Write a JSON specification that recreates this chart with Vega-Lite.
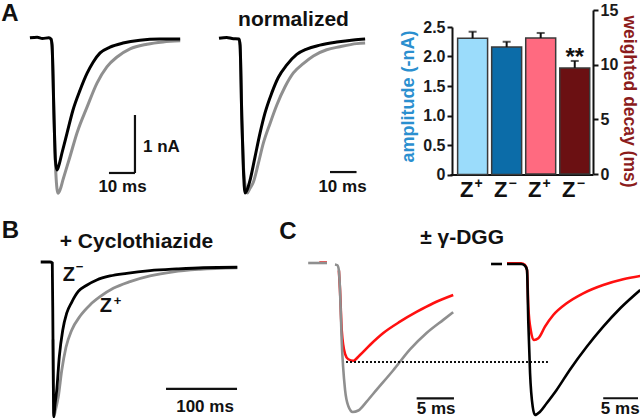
{
  "$schema": "https://vega.github.io/schema/vega-lite/v6.json",
  "width": 640,
  "height": 418,
  "autosize": "none",
  "padding": 0,
  "background": "white",
  "config": {"font": "Liberation Sans", "view": {"stroke": null}},
  "datasets": {
    "a1": [
      {"s":"Zplus","seg":"a","t":7.3,"v":0},{"s":"Zplus","seg":"a","t":7.7,"v":-0.1},{"s":"Zplus","seg":"a","t":8.5,"v":-1.4},{"s":"Zplus","seg":"a","t":9.2,"v":-2.34},{"s":"Zplus","seg":"a","t":10,"v":-2.66},{"s":"Zplus","seg":"a","t":10.8,"v":-2.6},{"s":"Zplus","seg":"a","t":11.9,"v":-2.43},{"s":"Zplus","seg":"a","t":14.6,"v":-2.03},{"s":"Zplus","seg":"a","t":17.3,"v":-1.62},{"s":"Zplus","seg":"a","t":21.2,"v":-1.17},{"s":"Zplus","seg":"a","t":25,"v":-0.76},{"s":"Zplus","seg":"a","t":28.8,"v":-0.48},{"s":"Zplus","seg":"a","t":32.7,"v":-0.31},{"s":"Zplus","seg":"a","t":37.7,"v":-0.17},{"s":"Zplus","seg":"a","t":44.2,"v":-0.09},{"s":"Zplus","seg":"a","t":50.4,"v":-0.05},{"s":"Zplus","seg":"a","t":57,"v":-0.03},
      {"s":"Zminus","seg":"a","t":-0.8,"v":0.02},{"s":"Zminus","seg":"a","t":2,"v":0.03},{"s":"Zminus","seg":"a","t":4,"v":0.01},{"s":"Zminus","seg":"a","t":6.5,"v":0.02},{"s":"Zminus","seg":"a","t":7.3,"v":0},{"s":"Zminus","seg":"a","t":7.7,"v":-0.1},{"s":"Zminus","seg":"a","t":8.5,"v":-1.4},{"s":"Zminus","seg":"a","t":9.0,"v":-2.09},{"s":"Zminus","seg":"a","t":9.6,"v":-2.26},{"s":"Zminus","seg":"a","t":10.4,"v":-2.17},{"s":"Zminus","seg":"a","t":11.5,"v":-1.97},{"s":"Zminus","seg":"a","t":13.5,"v":-1.62},{"s":"Zminus","seg":"a","t":15.8,"v":-1.22},{"s":"Zminus","seg":"a","t":18.5,"v":-0.88},{"s":"Zminus","seg":"a","t":21.2,"v":-0.59},{"s":"Zminus","seg":"a","t":23.5,"v":-0.4},{"s":"Zminus","seg":"a","t":26.2,"v":-0.24},{"s":"Zminus","seg":"a","t":30,"v":-0.14},{"s":"Zminus","seg":"a","t":35,"v":-0.07},{"s":"Zminus","seg":"a","t":41.5,"v":-0.02},{"s":"Zminus","seg":"a","t":49.2,"v":0},{"s":"Zminus","seg":"a","t":57,"v":0},
      {"s":"bar","seg":"h","t":29.6,"v":-2.31},{"s":"bar","seg":"h","t":39.6,"v":-2.31},{"s":"bar","seg":"v","t":39.6,"v":-2.31},{"s":"bar","seg":"v","t":39.6,"v":-1.31},
      {"s":"label","k":"letter","txt":"A","t":-8.46,"v":0.43},
      {"s":"label","k":"scale","txt":"1 nA","t":49.8,"v":-1.862},
      {"s":"label","k":"scale","txt":"10 ms","t":34.8,"v":-2.56}
    ],
    "a2": [
      {"s":"Zplus","seg":"a","t":7.7,"v":0},{"s":"Zplus","seg":"a","t":8.1,"v":-0.04},{"s":"Zplus","seg":"a","t":8.8,"v":-0.53},{"s":"Zplus","seg":"a","t":9.6,"v":-0.88},{"s":"Zplus","seg":"a","t":10.9,"v":-1},{"s":"Zplus","seg":"a","t":11.9,"v":-0.97},{"s":"Zplus","seg":"a","t":13.2,"v":-0.93},{"s":"Zplus","seg":"a","t":15.1,"v":-0.81},{"s":"Zplus","seg":"a","t":17,"v":-0.68},{"s":"Zplus","seg":"a","t":19.6,"v":-0.55},{"s":"Zplus","seg":"a","t":22.2,"v":-0.43},{"s":"Zplus","seg":"a","t":25.4,"v":-0.31},{"s":"Zplus","seg":"a","t":28.6,"v":-0.22},{"s":"Zplus","seg":"a","t":32.4,"v":-0.16},{"s":"Zplus","seg":"a","t":36.3,"v":-0.11},{"s":"Zplus","seg":"a","t":41.4,"v":-0.07},{"s":"Zplus","seg":"a","t":46.5,"v":-0.05},{"s":"Zplus","seg":"a","t":53,"v":-0.03},{"s":"Zplus","seg":"a","t":56.2,"v":-0.026},
      {"s":"Zminus","seg":"a","t":0,"v":0.005},{"s":"Zminus","seg":"a","t":3,"v":0.01},{"s":"Zminus","seg":"a","t":5,"v":0.003},{"s":"Zminus","seg":"a","t":7.7,"v":0},{"s":"Zminus","seg":"a","t":8.1,"v":-0.04},{"s":"Zminus","seg":"a","t":8.8,"v":-0.53},{"s":"Zminus","seg":"a","t":9.4,"v":-0.85},{"s":"Zminus","seg":"a","t":10,"v":-1},{"s":"Zminus","seg":"a","t":10.8,"v":-0.98},{"s":"Zminus","seg":"a","t":11.9,"v":-0.92},{"s":"Zminus","seg":"a","t":13.8,"v":-0.77},{"s":"Zminus","seg":"a","t":15.8,"v":-0.61},{"s":"Zminus","seg":"a","t":17.7,"v":-0.48},{"s":"Zminus","seg":"a","t":20.3,"v":-0.35},{"s":"Zminus","seg":"a","t":22.8,"v":-0.25},{"s":"Zminus","seg":"a","t":26,"v":-0.17},{"s":"Zminus","seg":"a","t":29.9,"v":-0.1},{"s":"Zminus","seg":"a","t":33.7,"v":-0.065},{"s":"Zminus","seg":"a","t":38.8,"v":-0.04},{"s":"Zminus","seg":"a","t":45.3,"v":-0.02},{"s":"Zminus","seg":"a","t":51.7,"v":-0.006},{"s":"Zminus","seg":"a","t":56.2,"v":0},
      {"s":"bar","seg":"h","t":42.7,"v":-0.864},{"s":"bar","seg":"h","t":52.9,"v":-0.864},
      {"s":"label","k":"title","txt":"normalized","t":28.65,"v":0.123},
      {"s":"label","k":"scale","txt":"10 ms","t":47.5,"v":-0.964}
    ],
    "b": [
      {"s":"Zplus","seg":"a","t":1.4,"v":-0.5},{"s":"Zplus","seg":"a","t":2.5,"v":-1.0},{"s":"Zplus","seg":"a","t":4.9,"v":-0.955},{"s":"Zplus","seg":"a","t":8.9,"v":-0.87},{"s":"Zplus","seg":"a","t":13.7,"v":-0.7},{"s":"Zplus","seg":"a","t":19.7,"v":-0.55},{"s":"Zplus","seg":"a","t":27.7,"v":-0.44},{"s":"Zplus","seg":"a","t":39.4,"v":-0.35},{"s":"Zplus","seg":"a","t":53.5,"v":-0.277},{"s":"Zplus","seg":"a","t":67.6,"v":-0.224},{"s":"Zplus","seg":"a","t":86.3,"v":-0.17},{"s":"Zplus","seg":"a","t":109.9,"v":-0.127},{"s":"Zplus","seg":"a","t":138,"v":-0.09},{"s":"Zplus","seg":"a","t":170.8,"v":-0.063},{"s":"Zplus","seg":"a","t":208.5,"v":-0.047},{"s":"Zplus","seg":"a","t":261,"v":-0.037},
      {"s":"Zminus","seg":"a","t":-15.9,"v":0},{"s":"Zminus","seg":"a","t":-2.8,"v":0},{"s":"Zminus","seg":"a","t":0.4,"v":-0.006},{"s":"Zminus","seg":"a","t":1.4,"v":-0.5},{"s":"Zminus","seg":"a","t":2.5,"v":-1.0},{"s":"Zminus","seg":"a","t":4.2,"v":-0.92},{"s":"Zminus","seg":"a","t":6.6,"v":-0.83},{"s":"Zminus","seg":"a","t":10.3,"v":-0.61},{"s":"Zminus","seg":"a","t":15.1,"v":-0.44},{"s":"Zminus","seg":"a","t":20.7,"v":-0.33},{"s":"Zminus","seg":"a","t":27.7,"v":-0.26},{"s":"Zminus","seg":"a","t":37,"v":-0.19},{"s":"Zminus","seg":"a","t":48.9,"v":-0.15},{"s":"Zminus","seg":"a","t":63,"v":-0.116},{"s":"Zminus","seg":"a","t":81.7,"v":-0.09},{"s":"Zminus","seg":"a","t":105.2,"v":-0.073},{"s":"Zminus","seg":"a","t":138,"v":-0.056},{"s":"Zminus","seg":"a","t":175.6,"v":-0.045},{"s":"Zminus","seg":"a","t":213.1,"v":-0.037},{"s":"Zminus","seg":"a","t":261,"v":-0.034},
      {"s":"bar","seg":"h","t":160.6,"v":-0.819},{"s":"bar","seg":"h","t":260.6,"v":-0.819},
      {"s":"label","k":"letter","txt":"B","t":-58.5,"v":0.197},
      {"s":"label","k":"title","txt":"+ Cyclothiazide","t":119,"v":0.126},
      {"s":"label","k":"z","txt":"Z","t":23.9,"v":-0.087},
      {"s":"label","k":"sup","txt":"−","t":38.7,"v":-0.032},
      {"s":"label","k":"z","txt":"Z","t":76,"v":-0.281},
      {"s":"label","k":"sup","txt":"+","t":92.3,"v":-0.252},
      {"s":"label","k":"scale","txt":"100 ms","t":215.5,"v":-0.935}
    ],
    "cl": [
      {"s":"DGG","seg":"a","t":-2.8,"v":0.003},{"s":"DGG","seg":"a","t":-1.76,"v":0.003},
      {"s":"DGG","seg":"b","t":-0.15,"v":-0.05},{"s":"DGG","seg":"b","t":0,"v":-0.18},{"s":"DGG","seg":"b","t":0.23,"v":-0.45},{"s":"DGG","seg":"b","t":0.68,"v":-0.61},{"s":"DGG","seg":"b","t":1.12,"v":-0.646},{"s":"DGG","seg":"b","t":1.8,"v":-0.656},{"s":"DGG","seg":"b","t":2.7,"v":-0.617},{"s":"DGG","seg":"b","t":4.05,"v":-0.55},{"s":"DGG","seg":"b","t":5.85,"v":-0.47},{"s":"DGG","seg":"b","t":8.1,"v":-0.394},{"s":"DGG","seg":"b","t":10.4,"v":-0.327},{"s":"DGG","seg":"b","t":12.6,"v":-0.27},{"s":"DGG","seg":"b","t":15.3,"v":-0.215},
      {"s":"Zplus","seg":"a","t":-4.3,"v":0},{"s":"Zplus","seg":"a","t":-1.76,"v":0},
      {"s":"Zplus","seg":"b","t":-0.68,"v":-0.01},{"s":"Zplus","seg":"b","t":-0.35,"v":-0.015},{"s":"Zplus","seg":"b","t":-0.15,"v":-0.05},{"s":"Zplus","seg":"b","t":0,"v":-0.18},{"s":"Zplus","seg":"b","t":0.23,"v":-0.52},{"s":"Zplus","seg":"b","t":0.68,"v":-0.85},{"s":"Zplus","seg":"b","t":1.12,"v":-0.96},{"s":"Zplus","seg":"b","t":1.72,"v":-1.0},{"s":"Zplus","seg":"b","t":2.47,"v":-0.99},{"s":"Zplus","seg":"b","t":3.6,"v":-0.93},{"s":"Zplus","seg":"b","t":4.96,"v":-0.85},{"s":"Zplus","seg":"b","t":7.2,"v":-0.72},{"s":"Zplus","seg":"b","t":9.46,"v":-0.58},{"s":"Zplus","seg":"b","t":11.7,"v":-0.47},{"s":"Zplus","seg":"b","t":14,"v":-0.38},{"s":"Zplus","seg":"b","t":15.3,"v":-0.33},
      {"s":"ref","seg":"r","t":0.81,"v":-0.664},{"s":"ref","seg":"r","t":28.1,"v":-0.664},
      {"s":"bar","seg":"h","t":10.36,"v":-0.908},{"s":"bar","seg":"h","t":15.4,"v":-0.908},
      {"s":"label","k":"letter","txt":"C","t":-7.03,"v":0.205},
      {"s":"label","k":"title","txt":"± γ-DGG","t":16.5,"v":0.171},
      {"s":"label","k":"scale","txt":"5 ms","t":13,"v":-0.98}
    ],
    "cr": [
      {"s":"DGG","seg":"b","t":-2.7,"v":0.005},{"s":"DGG","seg":"b","t":-0.8,"v":0.005},{"s":"DGG","seg":"b","t":-0.3,"v":-0.005},{"s":"DGG","seg":"b","t":0,"v":-0.04},{"s":"DGG","seg":"b","t":0.18,"v":-0.283},{"s":"DGG","seg":"b","t":0.5,"v":-0.437},{"s":"DGG","seg":"b","t":0.95,"v":-0.503},{"s":"DGG","seg":"b","t":1.53,"v":-0.492},{"s":"DGG","seg":"b","t":2.43,"v":-0.415},{"s":"DGG","seg":"b","t":3.55,"v":-0.338},{"s":"DGG","seg":"b","t":5.36,"v":-0.26},{"s":"DGG","seg":"b","t":7.6,"v":-0.194},{"s":"DGG","seg":"b","t":10.3,"v":-0.139},{"s":"DGG","seg":"b","t":13,"v":-0.101},{"s":"DGG","seg":"b","t":15.3,"v":-0.079},
      {"s":"Zminus","seg":"a","t":-4.86,"v":0},{"s":"Zminus","seg":"a","t":-3.38,"v":0},
      {"s":"Zminus","seg":"b","t":-2.7,"v":0},{"s":"Zminus","seg":"b","t":-0.8,"v":0},{"s":"Zminus","seg":"b","t":-0.3,"v":-0.01},{"s":"Zminus","seg":"b","t":0,"v":-0.04},{"s":"Zminus","seg":"b","t":0.18,"v":-0.39},{"s":"Zminus","seg":"b","t":0.41,"v":-0.72},{"s":"Zminus","seg":"b","t":0.77,"v":-0.945},{"s":"Zminus","seg":"b","t":1.08,"v":-1.0},{"s":"Zminus","seg":"b","t":1.76,"v":-0.978},{"s":"Zminus","seg":"b","t":2.66,"v":-0.922},{"s":"Zminus","seg":"b","t":4.0,"v":-0.834},{"s":"Zminus","seg":"b","t":5.8,"v":-0.7},{"s":"Zminus","seg":"b","t":8.07,"v":-0.548},{"s":"Zminus","seg":"b","t":10.3,"v":-0.415},{"s":"Zminus","seg":"b","t":12.6,"v":-0.293},{"s":"Zminus","seg":"b","t":15.3,"v":-0.172},
      {"s":"bar","seg":"h","t":10.3,"v":-0.889},{"s":"bar","seg":"h","t":15.0,"v":-0.889},
      {"s":"label","k":"scale","txt":"5 ms","t":12.6,"v":-0.962}
    ],
    "bars": [
      {"g":"Z+ amp","kind":"amp","val":2.31,"err":2.42,"sup":"+"},
      {"g":"Z− amp","kind":"amp","val":2.16,"err":2.25,"sup":"−"},
      {"g":"Z+ decay","kind":"decay","val":12.44,"err":12.9,"sup":"+"},
      {"g":"Z− decay","kind":"decay","val":9.7,"err":10.34,"sup":"−","star":"**"}
    ]
  },
  "layer": [
    {
      "data": {"name": "a1"},
      "encoding": {
        "x": {"field":"t","type":"quantitative","axis":null,"scale":{"domain":[0,60],"range":[32,188],"zero":false,"nice":false}},
        "y": {"field":"v","type":"quantitative","axis":null,"scale":{"domain":[-3,0.5],"range":[213,10],"zero":false,"nice":false}}
      },
      "layer": [
        {"transform":[{"filter":"datum.s === 'Zplus'"}],"mark":{"type":"line","color":"#8f8f8f","strokeWidth":3,"interpolate":"monotone"},"encoding":{"detail":{"field":"seg"}}},
        {"transform":[{"filter":"datum.s === 'Zminus'"}],"mark":{"type":"line","color":"#000000","strokeWidth":3,"interpolate":"monotone"},"encoding":{"detail":{"field":"seg"}}},
        {"transform":[{"filter":"datum.s === 'bar'"}],"mark":{"type":"line","color":"#111111","strokeWidth":2.2},"encoding":{"detail":{"field":"seg"}}},
        {"transform":[{"filter":"datum.k === 'letter'"}],"mark":{"type":"text","fontSize":24,"fontWeight":"bold","align":"center","baseline":"middle","color":"#111111"},"encoding":{"text":{"field":"txt"}}},
        {"transform":[{"filter":"datum.k === 'scale'"}],"mark":{"type":"text","fontSize":17,"fontWeight":"bold","align":"center","baseline":"middle","color":"#111111"},"encoding":{"text":{"field":"txt"}}}
      ]
    },
    {
      "data": {"name": "a2"},
      "encoding": {
        "x": {"field":"t","type":"quantitative","axis":null,"scale":{"domain":[0,60],"range":[219,375],"zero":false,"nice":false}},
        "y": {"field":"v","type":"quantitative","axis":null,"scale":{"domain":[-1.2,0.2],"range":[223.8,8.2],"zero":false,"nice":false}}
      },
      "layer": [
        {"transform":[{"filter":"datum.s === 'Zplus'"}],"mark":{"type":"line","color":"#8f8f8f","strokeWidth":3,"interpolate":"monotone"},"encoding":{"detail":{"field":"seg"}}},
        {"transform":[{"filter":"datum.s === 'Zminus'"}],"mark":{"type":"line","color":"#000000","strokeWidth":3,"interpolate":"monotone"},"encoding":{"detail":{"field":"seg"}}},
        {"transform":[{"filter":"datum.s === 'bar'"}],"mark":{"type":"line","color":"#111111","strokeWidth":2.2},"encoding":{"detail":{"field":"seg"}}},
        {"transform":[{"filter":"datum.k === 'title'"}],"mark":{"type":"text","fontSize":21,"fontWeight":"bold","align":"center","baseline":"middle","color":"#111111"},"encoding":{"text":{"field":"txt"}}},
        {"transform":[{"filter":"datum.k === 'scale'"}],"mark":{"type":"text","fontSize":17,"fontWeight":"bold","align":"center","baseline":"middle","color":"#111111"},"encoding":{"text":{"field":"txt"}}}
      ]
    },
    {
      "data": {"name": "bars"},
      "encoding": {
        "x": {"field":"g","type":"nominal","scale":{"domain":["Z+ amp","Z− amp","Z+ decay","Z− decay"],"range":[450,593],"paddingInner":0.12,"paddingOuter":0.16,"align":0.7},
              "axis":{"orient":"bottom","offset":-243.5,"labels":false,"ticks":false,"title":null,"domainColor":"#111111","domainWidth":2,"grid":false}}
      },
      "layer": [
        {
          "encoding": {
            "y": {"field":"val","type":"quantitative","scale":{"domain":[0,2.5],"range":[174.5,27],"zero":false,"nice":false},
                  "axis":{"orient":"left","offset":-452,"values":[0,0.5,1,1.5,2,2.5],"labelExpr":"datum.value === 0 ? '0' : format(datum.value, '.1f')","title":"amplitude (-nA)","titleColor":"#2b8fcf","titleFontSize":18,"titleFontWeight":"bold","titlePadding":5,"titleY":96,"labelFontSize":16,"labelFontWeight":"bold","labelColor":"#1a1a1a","labelPadding":2,"tickSize":5,"tickWidth":2,"tickColor":"#111111","domainColor":"#111111","domainWidth":2,"grid":false}}
          },
          "layer": [
            {"transform":[{"filter":"datum.kind === 'amp'"}],"mark":{"type":"bar","stroke":"#3a3a3a","strokeWidth":1.5},"encoding":{"color":{"field":"g","type":"nominal","scale":{"domain":["Z+ amp","Z− amp","Z+ decay","Z− decay"],"range":["#9bdcfb","#0c6ca8","#ff6a80","#6b1012"]},"legend":null}}},
            {"transform":[{"filter":"datum.kind === 'amp'"}],"mark":{"type":"rule","color":"#111111","strokeWidth":2},"encoding":{"y2":{"field":"err"}}},
            {"transform":[{"filter":"datum.kind === 'amp'"}],"mark":{"type":"tick","orient":"horizontal","size":8,"thickness":2,"color":"#111111"},"encoding":{"y":{"field":"err","type":"quantitative","scale":{"domain":[0,2.5],"range":[174.5,27],"zero":false,"nice":false},
                  "axis":{"orient":"left","offset":-452,"values":[0,0.5,1,1.5,2,2.5],"labelExpr":"datum.value === 0 ? '0' : format(datum.value, '.1f')","title":"amplitude (-nA)","titleColor":"#2b8fcf","titleFontSize":18,"titleFontWeight":"bold","titlePadding":5,"titleY":96,"labelFontSize":16,"labelFontWeight":"bold","labelColor":"#1a1a1a","labelPadding":2,"tickSize":5,"tickWidth":2,"tickColor":"#111111","domainColor":"#111111","domainWidth":2,"grid":false}}}},
            {"mark":{"type":"text","text":"Z","fontSize":22,"fontWeight":"bold","align":"center","baseline":"middle","dx":-6,"color":"#111111"},"encoding":{"y":{"datum":-0.27,"type":"quantitative","scale":{"domain":[0,2.5],"range":[174.5,27],"zero":false,"nice":false},
                  "axis":{"orient":"left","offset":-452,"values":[0,0.5,1,1.5,2,2.5],"labelExpr":"datum.value === 0 ? '0' : format(datum.value, '.1f')","title":"amplitude (-nA)","titleColor":"#2b8fcf","titleFontSize":18,"titleFontWeight":"bold","titlePadding":5,"titleY":96,"labelFontSize":16,"labelFontWeight":"bold","labelColor":"#1a1a1a","labelPadding":2,"tickSize":5,"tickWidth":2,"tickColor":"#111111","domainColor":"#111111","domainWidth":2,"grid":false}}}},
            {"mark":{"type":"text","fontSize":14,"fontWeight":"bold","align":"center","baseline":"middle","dx":6,"color":"#111111"},"encoding":{"text":{"field":"sup"},"y":{"datum":-0.161,"type":"quantitative","scale":{"domain":[0,2.5],"range":[174.5,27],"zero":false,"nice":false},
                  "axis":{"orient":"left","offset":-452,"values":[0,0.5,1,1.5,2,2.5],"labelExpr":"datum.value === 0 ? '0' : format(datum.value, '.1f')","title":"amplitude (-nA)","titleColor":"#2b8fcf","titleFontSize":18,"titleFontWeight":"bold","titlePadding":5,"titleY":96,"labelFontSize":16,"labelFontWeight":"bold","labelColor":"#1a1a1a","labelPadding":2,"tickSize":5,"tickWidth":2,"tickColor":"#111111","domainColor":"#111111","domainWidth":2,"grid":false}}}}
          ]
        },
        {
          "encoding": {
            "y": {"field":"val","type":"quantitative","scale":{"domain":[0,15],"range":[174,10],"zero":false,"nice":false},
                  "axis":{"orient":"right","offset":-47,"values":[0,5,10,15],"format":"d","title":"weighted decay (ms)","titleAngle":90,"titleColor":"#8b1c1c","titleFontSize":17.5,"titleFontWeight":"bold","titlePadding":2,"titleY":101,"labelFontSize":16,"labelFontWeight":"bold","labelColor":"#1a1a1a","labelPadding":2,"tickSize":5,"tickWidth":2,"tickColor":"#111111","domainColor":"#111111","domainWidth":2,"grid":false}}
          },
          "layer": [
            {"transform":[{"filter":"datum.kind === 'decay'"}],"mark":{"type":"bar","stroke":"#3a3a3a","strokeWidth":1.5},"encoding":{"color":{"field":"g","type":"nominal","scale":{"domain":["Z+ amp","Z− amp","Z+ decay","Z− decay"],"range":["#9bdcfb","#0c6ca8","#ff6a80","#6b1012"]},"legend":null}}},
            {"transform":[{"filter":"datum.kind === 'decay'"}],"mark":{"type":"rule","color":"#111111","strokeWidth":2},"encoding":{"y2":{"field":"err"}}},
            {"transform":[{"filter":"datum.kind === 'decay'"}],"mark":{"type":"tick","orient":"horizontal","size":8,"thickness":2,"color":"#111111"},"encoding":{"y":{"field":"err","type":"quantitative","scale":{"domain":[0,15],"range":[174,10],"zero":false,"nice":false},
                  "axis":{"orient":"right","offset":-47,"values":[0,5,10,15],"format":"d","title":"weighted decay (ms)","titleAngle":90,"titleColor":"#8b1c1c","titleFontSize":17.5,"titleFontWeight":"bold","titlePadding":2,"titleY":101,"labelFontSize":16,"labelFontWeight":"bold","labelColor":"#1a1a1a","labelPadding":2,"tickSize":5,"tickWidth":2,"tickColor":"#111111","domainColor":"#111111","domainWidth":2,"grid":false}}}},
            {"transform":[{"filter":"datum.star === '**'"}],"mark":{"type":"text","fontSize":24,"fontWeight":"bold","align":"center","baseline":"alphabetic","dy":4,"color":"#111111"},"encoding":{"text":{"field":"star"},"y":{"field":"err","type":"quantitative","scale":{"domain":[0,15],"range":[174,10],"zero":false,"nice":false},
                  "axis":{"orient":"right","offset":-47,"values":[0,5,10,15],"format":"d","title":"weighted decay (ms)","titleAngle":90,"titleColor":"#8b1c1c","titleFontSize":17.5,"titleFontWeight":"bold","titlePadding":2,"titleY":101,"labelFontSize":16,"labelFontWeight":"bold","labelColor":"#1a1a1a","labelPadding":2,"tickSize":5,"tickWidth":2,"tickColor":"#111111","domainColor":"#111111","domainWidth":2,"grid":false}}}}
          ]
        }
      ],
      "resolve": {"scale": {"y": "independent"}}
    },
    {
      "data": {"name": "b"},
      "encoding": {
        "x": {"field":"t","type":"quantitative","axis":null,"scale":{"domain":[0,300],"range":[52,265],"zero":false,"nice":false}},
        "y": {"field":"v","type":"quantitative","axis":null,"scale":{"domain":[-1.1,0.2],"range":[432.5,231],"zero":false,"nice":false}}
      },
      "layer": [
        {"transform":[{"filter":"datum.s === 'Zplus'"}],"mark":{"type":"line","color":"#8f8f8f","strokeWidth":2.8,"interpolate":"monotone"},"encoding":{"detail":{"field":"seg"}}},
        {"transform":[{"filter":"datum.s === 'Zminus'"}],"mark":{"type":"line","color":"#000000","strokeWidth":2.8,"interpolate":"monotone"},"encoding":{"detail":{"field":"seg"}}},
        {"transform":[{"filter":"datum.s === 'bar'"}],"mark":{"type":"line","color":"#111111","strokeWidth":2.2},"encoding":{"detail":{"field":"seg"}}},
        {"transform":[{"filter":"datum.k === 'letter'"}],"mark":{"type":"text","fontSize":24,"fontWeight":"bold","align":"center","baseline":"middle","color":"#111111"},"encoding":{"text":{"field":"txt"}}},
        {"transform":[{"filter":"datum.k === 'title'"}],"mark":{"type":"text","fontSize":21,"fontWeight":"bold","align":"center","baseline":"middle","color":"#111111"},"encoding":{"text":{"field":"txt"}}},
        {"transform":[{"filter":"datum.k === 'z'"}],"mark":{"type":"text","fontSize":20,"fontWeight":"bold","align":"center","baseline":"middle","color":"#111111"},"encoding":{"text":{"field":"txt"}}},
        {"transform":[{"filter":"datum.k === 'sup'"}],"mark":{"type":"text","fontSize":13,"fontWeight":"bold","align":"center","baseline":"middle","color":"#111111"},"encoding":{"text":{"field":"txt"}}},
        {"transform":[{"filter":"datum.k === 'scale'"}],"mark":{"type":"text","fontSize":17,"fontWeight":"bold","align":"center","baseline":"middle","color":"#111111"},"encoding":{"text":{"field":"txt"}}}
      ]
    },
    {
      "data": {"name": "cl"},
      "encoding": {
        "x": {"field":"t","type":"quantitative","axis":null,"scale":{"domain":[0,30],"range":[340,562],"zero":false,"nice":false}},
        "y": {"field":"v","type":"quantitative","axis":null,"scale":{"domain":[-1.1,0.3],"range":[426.9,218.3],"zero":false,"nice":false}}
      },
      "layer": [
        {"transform":[{"filter":"datum.s === 'DGG'"}],"mark":{"type":"line","color":"#ff1010","strokeWidth":2.6,"interpolate":"monotone"},"encoding":{"detail":{"field":"seg"}}},
        {"transform":[{"filter":"datum.s === 'Zplus'"}],"mark":{"type":"line","color":"#8f8f8f","strokeWidth":2.6,"interpolate":"monotone"},"encoding":{"detail":{"field":"seg"}}},
        {"transform":[{"filter":"datum.s === 'ref'"}],"mark":{"type":"line","color":"#111111","strokeWidth":2,"strokeDash":[2,2]},"encoding":{"detail":{"field":"seg"}}},
        {"transform":[{"filter":"datum.s === 'bar'"}],"mark":{"type":"line","color":"#111111","strokeWidth":2.2},"encoding":{"detail":{"field":"seg"}}},
        {"transform":[{"filter":"datum.k === 'letter'"}],"mark":{"type":"text","fontSize":24,"fontWeight":"bold","align":"center","baseline":"middle","color":"#111111"},"encoding":{"text":{"field":"txt"}}},
        {"transform":[{"filter":"datum.k === 'title'"}],"mark":{"type":"text","fontSize":21,"fontWeight":"bold","align":"center","baseline":"middle","color":"#111111"},"encoding":{"text":{"field":"txt"}}},
        {"transform":[{"filter":"datum.k === 'scale'"}],"mark":{"type":"text","fontSize":17,"fontWeight":"bold","align":"center","baseline":"middle","color":"#111111"},"encoding":{"text":{"field":"txt"}}}
      ]
    },
    {
      "data": {"name": "cr"},
      "encoding": {
        "x": {"field":"t","type":"quantitative","axis":null,"scale":{"domain":[0,20],"range":[527,675],"zero":false,"nice":false}},
        "y": {"field":"v","type":"quantitative","axis":null,"scale":{"domain":[-1.1,0.3],"range":[430.1,218.7],"zero":false,"nice":false}}
      },
      "layer": [
        {"transform":[{"filter":"datum.s === 'DGG'"}],"mark":{"type":"line","color":"#ff1010","strokeWidth":2.6,"interpolate":"monotone"},"encoding":{"detail":{"field":"seg"}}},
        {"transform":[{"filter":"datum.s === 'Zminus'"}],"mark":{"type":"line","color":"#000000","strokeWidth":2.6,"interpolate":"monotone"},"encoding":{"detail":{"field":"seg"}}},
        {"transform":[{"filter":"datum.s === 'bar'"}],"mark":{"type":"line","color":"#111111","strokeWidth":2.2},"encoding":{"detail":{"field":"seg"}}},
        {"transform":[{"filter":"datum.k === 'scale'"}],"mark":{"type":"text","fontSize":17,"fontWeight":"bold","align":"center","baseline":"middle","color":"#111111"},"encoding":{"text":{"field":"txt"}}}
      ]
    }
  ],
  "resolve": {"scale": {"x": "independent", "y": "independent"}}
}
